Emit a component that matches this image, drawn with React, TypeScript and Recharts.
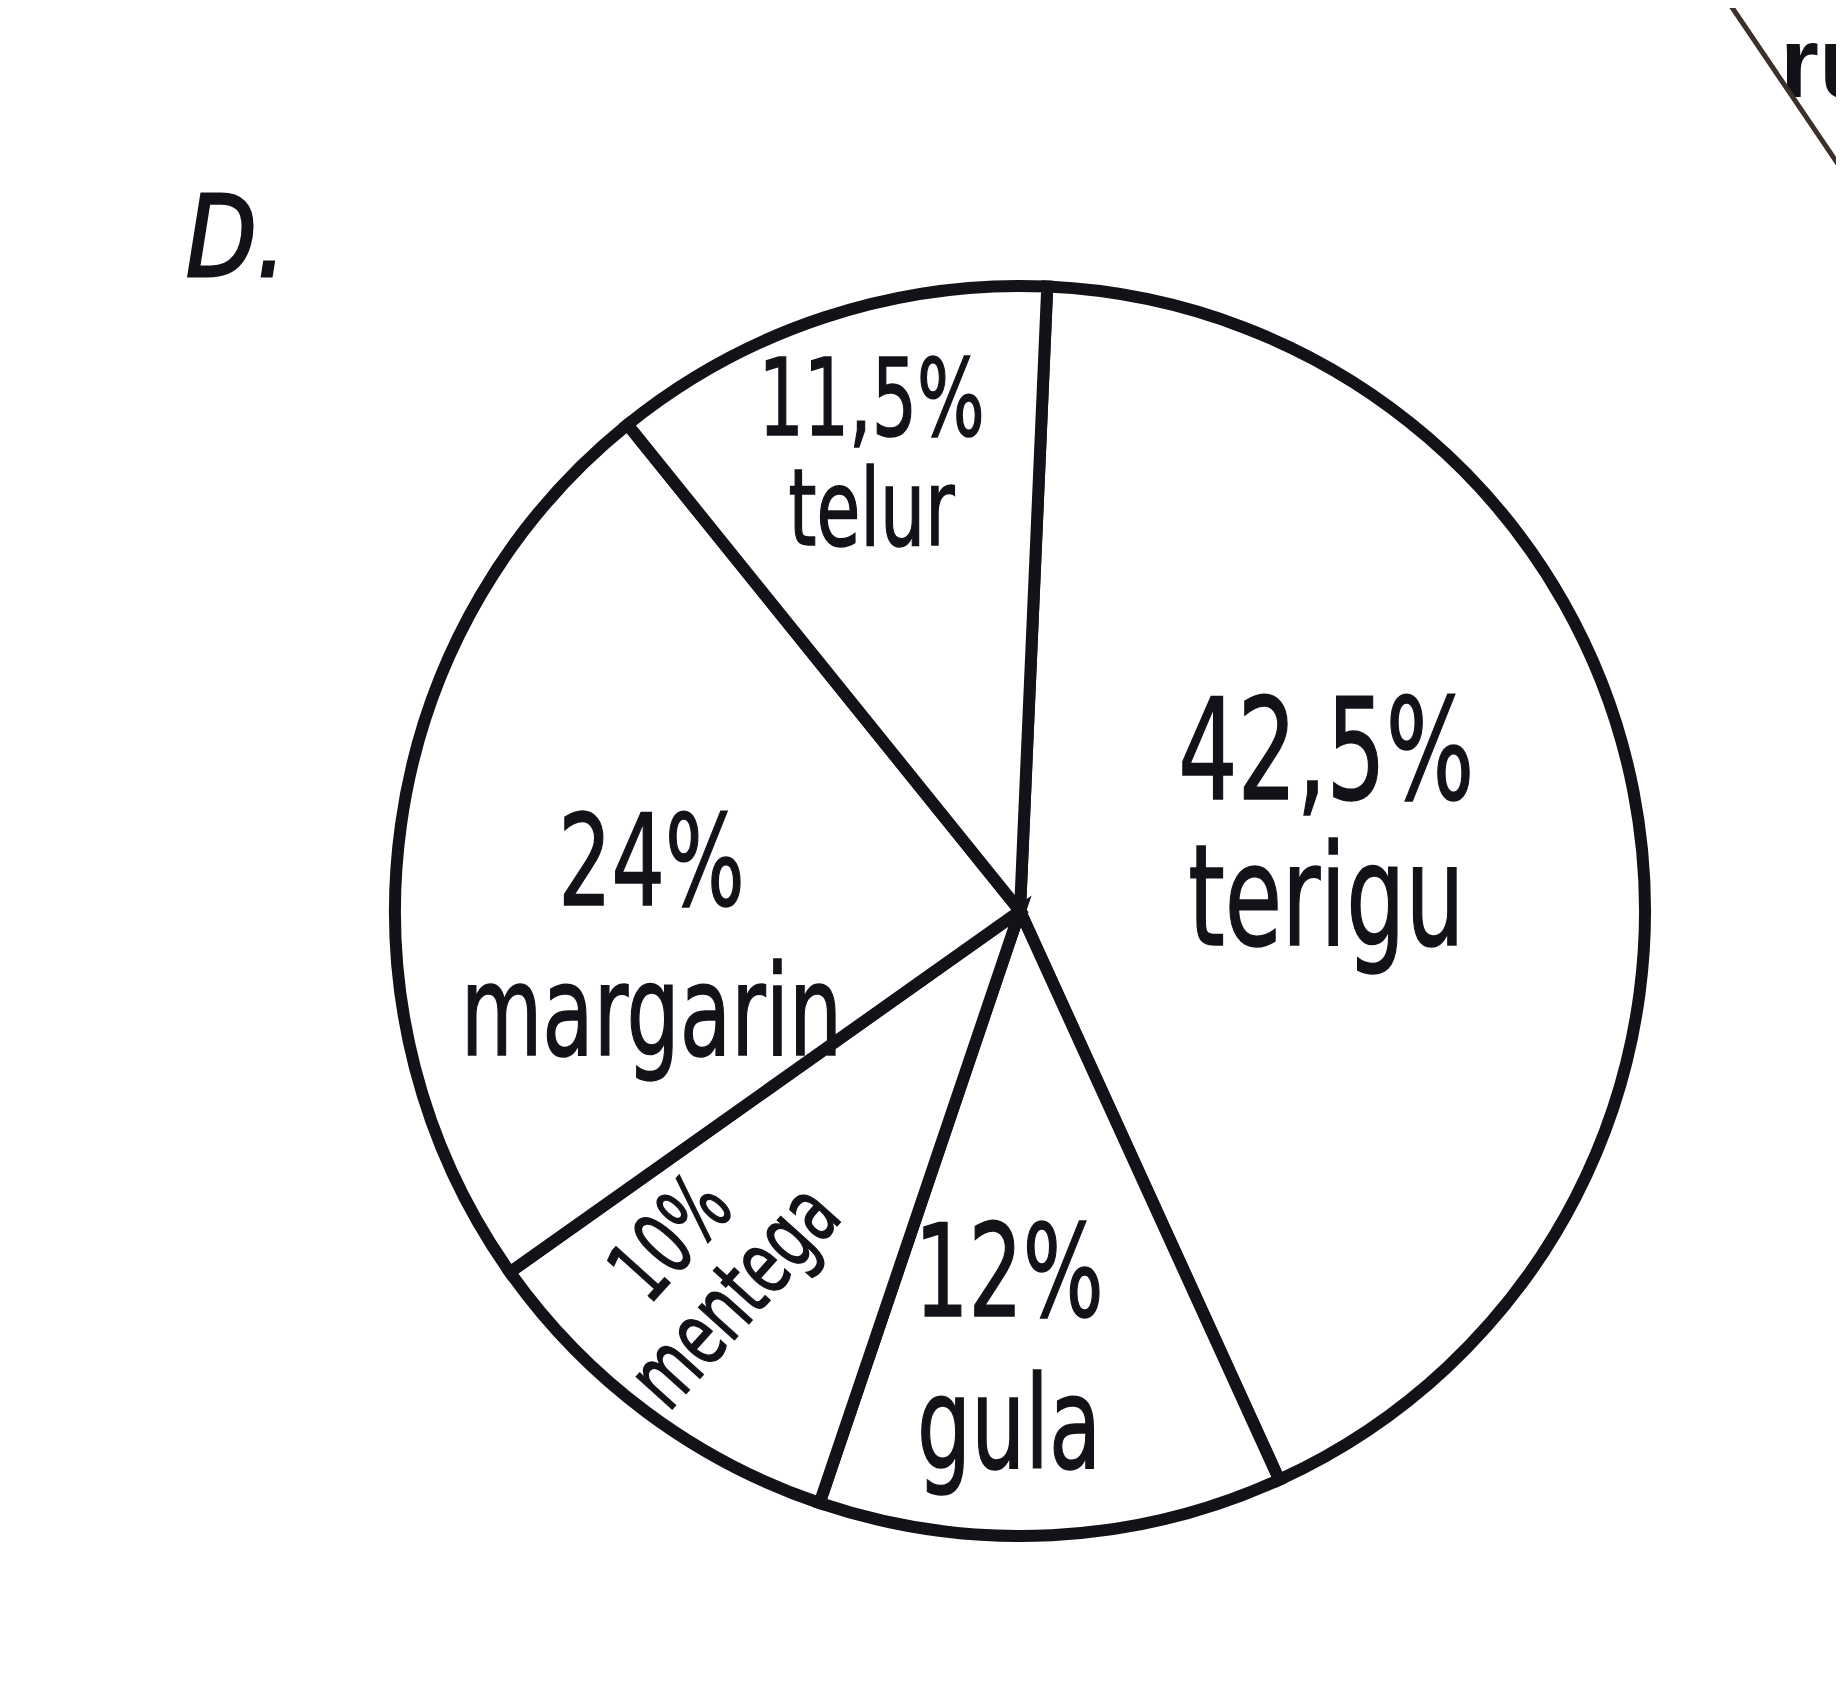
import React from "react";
import { PieChart, Pie, Cell } from "recharts";

const categories = ["terigu", "gula", "mentega", "margarin", "telur"];
const values = [42.5, 12, 10, 24, 11.5];

// label styling per slice (clockwise offset from mid angle in degrees, radius fraction, font size, rotation, line gap)
const labelStyles = [
  { dAngle: 3.8, rFrac: 0.494, fs: 140, rot: 0, gap: 146 },
  { dAngle: 4.2, rFrac: 0.77, fs: 128, rot: 0, gap: 152 },
  { dAngle: 1.5, rFrac: 0.765, fs: 88, rot: -48, gap: 86 },
  { dAngle: -18.5, rFrac: 0.6, fs: 126, rot: 0, gap: 150 },
  { dAngle: -1.2, rFrac: 0.715, fs: 107, rot: 0, gap: 110 },
];

const data = categories.map((name, i) => ({ name, value: values[i] }));

const W = 1828;
const H = 1668;
const FONT = "'DejaVu Sans Condensed', 'DejaVu Sans', sans-serif";
const INK = "#141218";
const SX = 0.74;

const fmt = (v: number) => String(v).replace(".", ",") + "%";

const renderLabel = (props: any) => {
  const { cx, cy, midAngle, outerRadius, index } = props;
  const st = labelStyles[index];
  const ang = ((midAngle - st.dAngle) * Math.PI) / 180;
  const r = outerRadius * st.rFrac;
  const x = cx + r * Math.cos(-ang);
  const y = cy + r * Math.sin(-ang);
  return (
    <g transform={`translate(${x},${y}) rotate(${st.rot}) scale(${SX},1)`}>
      <text
        x={0}
        y={-st.gap / 2}
        textAnchor="middle"
        fontFamily={FONT}
        fontSize={st.fs}
        fill={INK}
        stroke={INK}
        strokeWidth={1.5}
      >
        {fmt(values[index])}
      </text>
      <text
        x={0}
        y={st.gap / 2}
        textAnchor="middle"
        fontFamily={FONT}
        fontSize={st.fs}
        fill={INK}
        stroke={INK}
        strokeWidth={1.5}
      >
        {categories[index]}
      </text>
    </g>
  );
};

export default function App() {
  return (
    <div style={{ position: "relative", width: W, height: H, background: "#ffffff" }}>
      <PieChart width={W} height={H}>
        <Pie
          data={data}
          dataKey="value"
          nameKey="name"
          cx={1007}
          cy={898}
          outerRadius={625}
          startAngle={87.5}
          endAngle={-272.5}
          stroke={INK}
          strokeWidth={12}
          label={renderLabel}
          labelLine={false}
          isAnimationActive={false}
        >
          {data.map((d) => (
            <Cell key={d.name} fill="#ffffff" />
          ))}
        </Pie>
      </PieChart>
      <svg
        width={W}
        height={H}
        style={{ position: "absolute", left: 0, top: 0, pointerEvents: "none" }}
      >
        <text
          transform="translate(178,268) scale(0.82,1)"
          fontFamily="'DejaVu Sans', sans-serif"
          fontStyle="italic"
          fontSize={112}
          fill={INK}
          stroke={INK}
          strokeWidth={3}
        >
          D.
        </text>
        <text
          x={1772}
          y={89}
          fontFamily="'Liberation Sans', Arial, sans-serif"
          fontWeight="bold"
          fontSize={100}
          fill={INK}
        >
          ru
        </text>
        <polygon points="1600,-8 1719,-8 1832,159 1832,200 1600,200" fill="#ffffff" />
        <line x1={1719} y1={-8} x2={1832} y2={159} stroke="#3a302c" strokeWidth={5} />
      </svg>
    </div>
  );
}
